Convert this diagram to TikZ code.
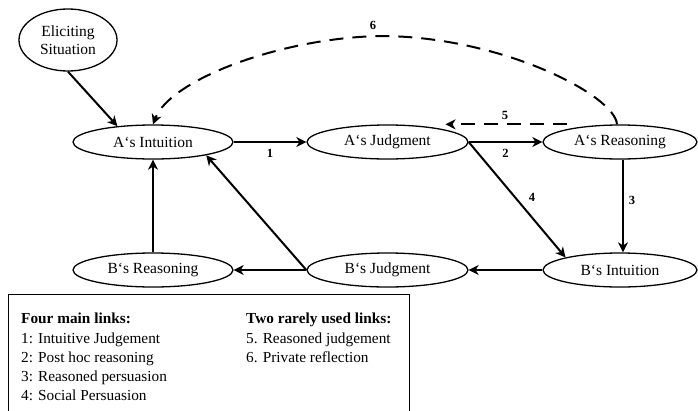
\documentclass[tikz,border=0pt]{standalone}
\usepackage{fontspec}
\setmainfont{Liberation Serif}
\usetikzlibrary{shapes.geometric,arrows.meta}
\begin{document}
\begin{tikzpicture}[x=1pt,y=-1pt,
  ell/.style={ellipse,draw,line width=1.3pt,inner sep=0pt,minimum height=34pt,font=\fontsize{15.5}{18}\selectfont},
  link/.style={line width=2pt,-{Stealth[length=10pt,width=10pt,inset=3pt]}},
  dlink/.style={link,dash pattern=on 14pt off 9pt},
  lab/.style={font=\bfseries\fontsize{12.5}{14}\selectfont,inner sep=0pt},
  leg/.style={anchor=base west,inner sep=0pt,font=\fontsize{15.3}{19}\selectfont},
  legb/.style={leg,font=\bfseries\fontsize{15.3}{19}\selectfont}]
\useasboundingbox (0,0) rectangle (698,410);

% nodes
\node[ell,minimum width=98pt,minimum height=62pt,align=center,font=\fontsize{15.5}{18}\selectfont] (es) at (68,40) {Eliciting\\Situation};
\node[ell,minimum width=160pt] (ai) at (153,142) {A‘s Intuition};
\node[ell,minimum width=161pt] (aj) at (387.5,142) {A‘s Judgment};
\node[ell,minimum width=154pt] (ar) at (620,142) {A‘s Reasoning};
\node[ell,minimum width=160pt] (br) at (153,270) {B‘s Reasoning};
\node[ell,minimum width=161pt] (bj) at (387.5,270) {B‘s Judgment};
\node[ell,minimum width=154pt] (bi) at (620,270) {B‘s Intuition};

% helper coordinates
\coordinate (c5s) at ([xshift=-53pt]ar.north);
\coordinate (c5e) at ([xshift=58pt]aj.north);
\coordinate (c6s) at ([xshift=-3pt]ar.north);
\coordinate (c6m) at (380,36);
\coordinate (c3s) at ([xshift=3pt]ar.south);
\coordinate (c3e) at ([xshift=3pt]bi.north);

% connectors
\draw[link] (es.south) -- (ai.156);
\draw[link] (ai.east) -- node[lab,below=6pt] {1} (aj.west);
\draw[link] (aj.east) -- node[lab,below=6pt] {2} (ar.west);
\draw[link] (c3s) -- (c3e);
\draw[link] (aj.east) -- (bi.167);
\draw[link] (bi.west) -- (bj.east);
\draw[link] (bj.west) -- (br.east);
\draw[link] (bj.west) -- (ai.346);
\draw[link] (br.north) -- (ai.south);
\draw[dlink] (c5s) -- (c5e);
\draw[dlink] (c6s) .. controls (615,95) and (500,36) .. (c6m)
  .. controls (280,38) and (170,80) .. (ai.north);

% link labels
\node[lab] (l3) at (632,200) {3};
\node[lab] (l4) at (532,197) {4};
\node[lab] (l5) at (505,115) {5};
\node[lab] (l6) at (373,25) {6};

% legend
\draw[line width=1pt] (8,411) -- (8,294) -- (409,294) -- (409,411);
\node[legb] (t1) at (21,323) {Four main links:};
\node[leg] (t2) at (21,343) {1: Intuitive Judgement};
\node[leg] (t3) at (21,362) {2: Post hoc reasoning};
\node[leg] (t4) at (21,381) {3: Reasoned persuasion};
\node[leg] (t5) at (21,400) {4: Social Persuasion};
\node[legb] (u1) at (246,323) {Two rarely used links:};
\node[leg] (u2) at (246,343) {5. Reasoned judgement};
\node[leg] (u3) at (246,362) {6. Private reflection};
\end{tikzpicture}
\end{document}
